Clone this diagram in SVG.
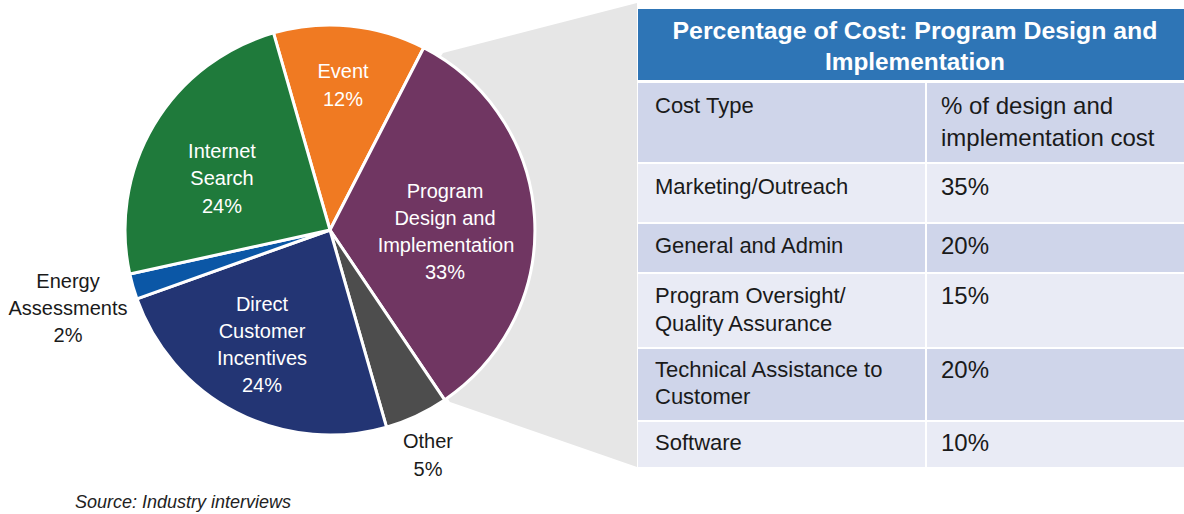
<svg xmlns="http://www.w3.org/2000/svg" width="1184" height="514" viewBox="0 0 1184 514">
<style>
.sl{stroke:#fff;stroke-width:3;stroke-linejoin:round}
.pl{font-family:"Liberation Sans",Arial,sans-serif;font-size:20px;fill:#fff;text-anchor:middle}
.ol{font-family:"Liberation Sans",Arial,sans-serif;font-size:20px;fill:#1a1a1a;text-anchor:middle}
.th{font-family:"Liberation Sans",Arial,sans-serif;font-size:23px;font-weight:bold;fill:#fff;text-anchor:middle}
.td{font-family:"Liberation Sans",Arial,sans-serif;font-size:22px;fill:#1a1a1a}
.td2{font-family:"Liberation Sans",Arial,sans-serif;font-size:24px;fill:#1a1a1a}
.dk{fill:#cfd5ea}
.lt{fill:#e9ebf5}
</style>
<rect width="1184" height="514" fill="#fff"/>
<g id="projection">
<polygon points="330,230 443,53 637,3 637,467 450,402" fill="#e6e6e6"/>
</g>
<g id="pie">
<g id="slice-event"><path class="sl" d="M330,230 L273.5,32.9 A205,205 0 0 1 423.7,47.7 Z" fill="#f07a22"/></g>
<g id="slice-program"><path class="sl" d="M330,230 L423.7,47.7 A205,205 0 0 1 444.6,399.9 Z" fill="#703662"/></g>
<g id="slice-other"><path class="sl" d="M330,230 L444.6,399.9 A205,205 0 0 1 386.5,427.1 Z" fill="#4d4d4d"/></g>
<g id="slice-direct"><path class="sl" d="M330,230 L386.5,427.1 A205,205 0 0 1 136.9,298.8 Z" fill="#233574"/></g>
<g id="slice-energy"><path class="sl" d="M330,230 L136.9,298.8 A205,205 0 0 1 129.8,274.0 Z" fill="#0b57a6"/></g>
<g id="slice-internet"><path class="sl" d="M330,230 L129.8,274.0 A205,205 0 0 1 273.5,32.9 Z" fill="#1f7a3b"/></g>
</g>
<g id="pie-labels">
<text class="pl" x="343" y="78">Event</text>
<text class="pl" x="343" y="106">12%</text>
<text class="pl" x="222" y="158">Internet</text>
<text class="pl" x="222" y="185">Search</text>
<text class="pl" x="222" y="213">24%</text>
<text class="pl" x="445" y="198">Program</text>
<text class="pl" x="445" y="225">Design and</text>
<text class="pl" x="446" y="252">Implementation</text>
<text class="pl" x="445" y="279">33%</text>
<text class="pl" x="262" y="311">Direct</text>
<text class="pl" x="262" y="338">Customer</text>
<text class="pl" x="262" y="365">Incentives</text>
<text class="pl" x="262" y="392">24%</text>
<text class="ol" x="428" y="448">Other</text>
<text class="ol" x="428" y="476">5%</text>
<text class="ol" x="68" y="288">Energy</text>
<text class="ol" x="68" y="315">Assessments</text>
<text class="ol" x="68" y="342">2%</text>
</g>
<g id="table">
<rect x="638" y="9" width="546" height="71" fill="#2e75b6"/>
<text class="th" x="915" y="39" textLength="485" lengthAdjust="spacingAndGlyphs">Percentage of Cost: Program Design and</text>
<text class="th" x="915" y="70" textLength="180" lengthAdjust="spacingAndGlyphs">Implementation</text>
<rect class="dk" x="638" y="83" width="546" height="79"/>
<rect class="lt" x="638" y="164" width="546" height="58"/>
<rect class="dk" x="638" y="224" width="546" height="48"/>
<rect class="lt" x="638" y="274" width="546" height="73"/>
<rect class="dk" x="638" y="349" width="546" height="71"/>
<rect class="lt" x="638" y="422" width="546" height="45"/>
<line x1="926" y1="83" x2="926" y2="467" stroke="#fff" stroke-width="2"/>
<text class="td" x="655" y="113">Cost Type</text>
<text class="td2" x="941" y="114">% of design and</text>
<text class="td2" x="941" y="146">implementation cost</text>
<text class="td" x="655" y="194">Marketing/Outreach</text>
<text class="td2" x="941" y="195">35%</text>
<text class="td" x="655" y="253">General  and Admin</text>
<text class="td2" x="941" y="254">20%</text>
<text class="td" x="655" y="303">Program  Oversight/</text>
<text class="td" x="655" y="331">Quality Assurance</text>
<text class="td2" x="941" y="304">15%</text>
<text class="td" x="655" y="377">Technical  Assistance to</text>
<text class="td" x="655" y="404">Customer</text>
<text class="td2" x="941" y="378">20%</text>
<text class="td" x="655" y="450">Software</text>
<text class="td2" x="941" y="451">10%</text>
</g>
<text x="75" y="508" font-family="'Liberation Sans',Arial,sans-serif" font-size="18" font-style="italic" fill="#222">Source: Industry interviews</text>
</svg>
